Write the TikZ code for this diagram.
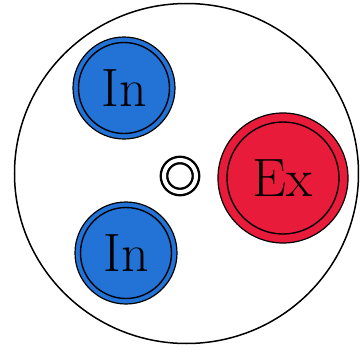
\documentclass[tikz,border=0pt]{standalone}
\usepackage{tikz}
\usetikzlibrary{positioning}
\definecolor{inblue}{RGB}{35,115,215}
\definecolor{exred}{RGB}{232,28,58}
\tikzset{
  port/.style={circle,draw=black,line width=1.2pt,inner sep=0pt,
    font=\fontsize{54}{54}\selectfont},
  inport/.style={port,fill=inblue,minimum size=102pt},
  export/.style={port,fill=exred,minimum size=130pt},
  ring/.style={draw=black,line width=1.4pt},
  hole/.style={circle,draw=black,line width=2.4pt,double=white,double distance=4pt,
    inner sep=0pt,minimum size=32pt}
}

\begin{document}
\begin{tikzpicture}[x=1pt,y=-1pt]
  \useasboundingbox (0,0) rectangle (360,354);
  \draw[line width=1.5pt] (186.5,173.5) ellipse [x radius=172, y radius=170];
  \node[inport] (in1) at (124,88) {In};
  \node[inport] (in2) at (126,253) {In};
  \node[export] (ex) at (283,178) {Ex};
  \node[hole] (centre) at (180,176) {};
  % inner rings
  \draw[ring] (in1.center) circle (45.5);
  \draw[ring] (in2.center) circle (45.5);
  \draw[ring] (ex.center) circle (56);
\end{tikzpicture}
\end{document}
